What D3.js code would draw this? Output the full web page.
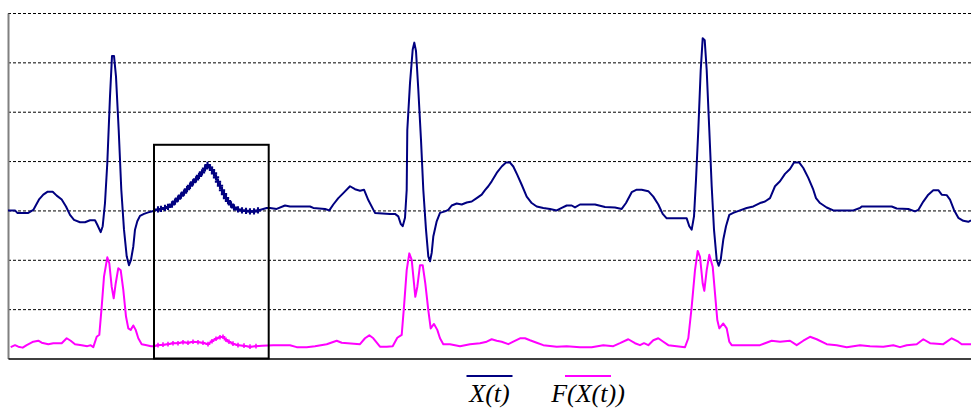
<!DOCTYPE html>
<html>
<head>
<meta charset="utf-8">
<script src="https://cdn.jsdelivr.net/npm/d3@7"></script>
<style>
  body { margin: 0; background: #fff; }
</style>
</head>
<body>
<svg id="chart"></svg>
<script>
// X(t) signal, sample index and amplitude
const xSamples = [0, 7, 9.3, 20.3, 25.3, 31.3, 35.3, 39.7, 44.7, 48.7, 53.7, 58, 62, 66, 72, 77, 82, 87, 89.3, 92.7, 94.7, 97, 99.3, 102, 104, 106, 108, 110.7, 113.3, 116, 118.7, 121, 123, 125.3, 127, 129.3, 132, 136, 140.3, 145.3,
  150, 153, 157, 160, 164, 167, 170, 173, 176, 179, 182, 185, 188, 191, 194, 197, 199.5, 202, 204, 206, 208, 210, 212, 214, 216, 218, 220, 223, 226, 230, 234, 238, 242, 246, 250,
  258.7, 262, 268.7, 277, 282, 302, 305.3, 317, 321.3, 325.3, 330.3, 335.3, 342, 347, 352, 356, 360.3, 367, 382, 387, 390.3, 392.7, 394.7, 397, 398.7, 399.3, 402, 404.7, 406.3, 408, 410.3, 413, 415.3, 418, 420.3, 422, 423.7, 425.3, 428.7, 432, 437, 440.3, 443.7, 448.7, 453.7, 458.7, 463.7, 468.7, 473.7, 477, 480.3, 483.7, 488.7, 493.7, 498, 502, 505.3, 509.3, 513.7, 518.7, 523.7, 528.7, 535.3, 542, 548.7, 553.7, 558.7, 563.7, 567, 572, 587, 597, 607, 613.7, 618, 623.7, 628.7, 633.7, 640.3, 645.3, 650.3, 654.7, 658.7, 678.7, 681.3, 683.7, 686, 688, 690.3, 692.7, 694.7, 696.7, 698.7, 701.3, 703.7, 706, 708.7, 710.7, 712.7, 715.3, 718, 721.3, 725.3, 732, 738.7, 745.3, 752, 757, 762, 767, 772, 777, 782, 786, 791.3, 795.3, 800.3, 805.3, 808, 812, 818.7, 825.3, 845.3, 852, 853.7, 883.7, 888.7, 900.3, 907, 910.3, 915.3, 920.3, 925.3, 930.3, 933.7, 938.7, 942, 946, 950.3, 955.3, 960.3, 963];
const xValues = [3.00, 3.00, 2.95, 2.95, 3.01, 3.23, 3.32, 3.38, 3.38, 3.30, 3.22, 3.08, 2.91, 2.81, 2.76, 2.76, 2.80, 2.80, 2.71, 2.56, 2.68, 3.15, 3.96, 5.31, 6.13, 6.13, 5.71, 4.63, 3.42, 2.61, 2.07, 1.89, 2.00, 2.27, 2.61, 2.78, 2.89, 2.93, 2.96, 2.99,
  3.02, 3.03, 3.05, 3.07, 3.12, 3.18, 3.24, 3.30, 3.36, 3.43, 3.50, 3.57, 3.63, 3.70, 3.77, 3.85, 3.92, 3.87, 3.82, 3.75, 3.67, 3.58, 3.50, 3.41, 3.33, 3.25, 3.19, 3.12, 3.06, 3.02, 3.00, 2.99, 2.98, 2.98, 3.00,
  3.05, 3.05, 3.03, 3.10, 3.08, 3.08, 3.05, 3.03, 3.00, 3.12, 3.25, 3.35, 3.49, 3.43, 3.40, 3.42, 3.21, 2.95, 2.93, 2.93, 2.88, 2.73, 2.68, 2.85, 3.42, 4.63, 5.58, 6.26, 6.40, 6.23, 5.45, 4.43, 3.42, 2.61, 2.07, 1.97, 2.14, 2.47, 2.78, 2.95, 2.98, 3.01, 3.10, 3.14, 3.12, 3.16, 3.18, 3.25, 3.32, 3.41, 3.49, 3.59, 3.76, 3.89, 3.97, 3.97, 3.89, 3.72, 3.52, 3.28, 3.15, 3.08, 3.05, 3.03, 3.00, 3.05, 3.10, 3.10, 3.06, 3.12, 3.12, 3.07, 3.06, 3.03, 3.15, 3.37, 3.42, 3.42, 3.39, 3.28, 3.12, 2.93, 2.84, 2.84, 2.68, 2.61, 2.88, 3.62, 4.63, 5.84, 6.49, 6.45, 5.84, 4.63, 3.49, 2.61, 2.00, 1.88, 2.00, 2.41, 2.68, 2.91, 2.95, 3.00, 3.05, 3.08, 3.15, 3.18, 3.25, 3.49, 3.59, 3.74, 3.84, 3.97, 3.97, 3.86, 3.66, 3.42, 3.25, 3.15, 3.06, 3.00, 3.00, 3.05, 3.08, 3.08, 3.04, 3.03, 2.98, 3.01, 3.18, 3.32, 3.41, 3.41, 3.32, 3.31, 3.22, 3.01, 2.85, 2.79, 2.77, 2.80];

// F(X(t)) signal
const fSamples = [2.7, 7, 10.3, 14.7, 18.7, 25.3, 30.3, 33.7, 40.3, 45.3, 53.7, 58.7, 62.7, 67, 73.7, 79.3, 82.7, 85.3, 88.7, 91.3, 93.7, 96, 99.3, 101.3, 103.7, 105.7, 107.7, 110.3, 112.7, 115.3, 118, 120.3, 122.7, 125.3, 127.7, 130.3, 133.7, 138.7, 143,
  146, 150, 155, 160, 165, 170, 175, 180, 185, 190, 195, 200, 204, 208, 212, 215, 218, 221, 225, 230, 236, 242, 248, 254,
  265.3, 282, 288.7, 298.7, 307, 318.7, 328.7, 333.7, 352, 357, 361.3, 365.3, 372, 378.7, 384.7, 389.3, 393.7, 396, 398.7, 401.3, 403.7, 406, 407.3, 409.3, 412, 414.7, 417.3, 420.3, 422.7, 426, 429.3, 432, 435.3, 442, 452, 462, 472, 478.7, 483.7, 488.7, 493.7, 500.3, 505.3, 512, 517, 522, 528.7, 535.3, 548.7, 558.7, 565.3, 572, 583.7, 595.3, 605.3, 612, 620.3, 627, 632, 636, 640.3, 645.3, 650.3, 655.3, 660.3, 677, 680.3, 683.7, 687, 689.7, 692, 694.7, 696.3, 698.7, 701.3, 704.7, 707, 709.3, 711.3, 715.3, 718.7, 721.3, 723.7, 738.7, 752, 763.7, 772, 782, 788.7, 795.3, 802, 808.7, 818.7, 828.7, 838.7, 852, 862, 875.3, 885.3, 892, 898.7, 908.7, 915.3, 922, 935.3, 943.7, 950.3, 953.7, 963];
const fValues = [0.23, 0.27, 0.24, 0.22, 0.27, 0.34, 0.36, 0.32, 0.29, 0.31, 0.31, 0.41, 0.36, 0.29, 0.27, 0.25, 0.27, 0.23, 0.44, 0.48, 1.05, 1.66, 2.05, 1.93, 1.45, 1.22, 1.52, 1.83, 1.79, 1.39, 0.85, 0.61, 0.58, 0.67, 0.58, 0.41, 0.29, 0.27, 0.25,
  0.25, 0.27, 0.28, 0.29, 0.31, 0.31, 0.33, 0.32, 0.34, 0.33, 0.32, 0.29, 0.35, 0.40, 0.43, 0.44, 0.38, 0.34, 0.30, 0.27, 0.26, 0.24, 0.25, 0.26,
  0.27, 0.27, 0.23, 0.23, 0.25, 0.29, 0.36, 0.32, 0.29, 0.41, 0.47, 0.41, 0.24, 0.24, 0.25, 0.42, 0.48, 1.05, 1.79, 2.13, 2.00, 1.52, 1.25, 1.45, 1.89, 1.89, 1.52, 0.98, 0.61, 0.70, 0.58, 0.41, 0.29, 0.29, 0.25, 0.29, 0.31, 0.34, 0.39, 0.36, 0.34, 0.29, 0.34, 0.41, 0.41, 0.37, 0.32, 0.27, 0.24, 0.25, 0.24, 0.23, 0.23, 0.27, 0.25, 0.31, 0.39, 0.31, 0.27, 0.31, 0.27, 0.37, 0.41, 0.34, 0.27, 0.23, 0.41, 1.05, 1.79, 2.18, 2.06, 1.52, 1.37, 1.79, 2.10, 1.86, 1.32, 0.78, 0.61, 0.71, 0.61, 0.34, 0.27, 0.27, 0.27, 0.36, 0.34, 0.36, 0.27, 0.36, 0.44, 0.39, 0.29, 0.27, 0.23, 0.27, 0.25, 0.24, 0.27, 0.23, 0.27, 0.29, 0.39, 0.31, 0.29, 0.41, 0.34, 0.29, 0.29];

// horizontal grid levels and the highlighted window
const gridLevels = [1, 2, 3, 4, 5, 6, 7];
const windowStart = 146, windowEnd = 260.7, windowTop = 4.33;
const legendNames = ["X(t)", "F(X(t))"];
const legendColors = ["#000080", "#ff00ff"];

const w = 971, h = 408;
const plotLeft = 8, plotRight = 971, plotTop = 13, plotBottom = 358.5;

const svg = d3.select("#chart")
  .attr("width", w)
  .attr("height", h)
  .style("display", "block");

const x = d3.scaleLinear().domain([0, 963]).range([plotLeft, plotRight]);
const y = d3.scaleLinear().domain([0, 7]).range([plotBottom, plotTop]);

// dashed grid
svg.append("g")
  .attr("transform", `translate(${plotLeft},0)`)
  .call(d3.axisLeft(y).tickValues(gridLevels).tickSize(-(plotRight - plotLeft)).tickFormat(""))
  .call(g => g.select(".domain").remove())
  .call(g => g.selectAll(".tick line")
    .attr("stroke", "#000")
    .attr("stroke-width", 1)
    .attr("stroke-dasharray", "3,2"));

// axes without ticks
svg.append("g")
  .attr("transform", `translate(${plotLeft},0)`)
  .call(d3.axisLeft(y).tickValues([]).tickSizeOuter(0))
  .call(g => g.select(".domain").attr("stroke", "#808080").attr("stroke-width", 2));

svg.append("g")
  .attr("transform", `translate(0,${plotBottom})`)
  .call(d3.axisBottom(x).tickValues([]).tickSizeOuter(0))
  .call(g => g.select(".domain").attr("stroke", "#000").attr("stroke-width", 1.5));

const xData = xSamples.map((t, i) => ({t, v: xValues[i]}));
const fData = fSamples.map((t, i) => ({t, v: fValues[i]}));

const line = d3.line().x(d => x(d.t)).y(d => y(d.v));

svg.append("path")
  .datum(fData)
  .attr("fill", "none")
  .attr("stroke", legendColors[1])
  .attr("stroke-width", 2)
  .attr("stroke-linejoin", "round")
  .attr("d", line);

svg.append("path")
  .datum(xData)
  .attr("fill", "none")
  .attr("stroke", legendColors[0])
  .attr("stroke-width", 2)
  .attr("stroke-linejoin", "round")
  .attr("d", line);

// sample markers inside the window
const inWindow = d => d.t >= windowStart + 3 && d.t <= windowEnd - 8;

svg.append("g").selectAll("path")
  .data(xData.filter(inWindow))
  .join("path")
  .attr("transform", d => `translate(${x(d.t)},${y(d.v)})`)
  .attr("d", d3.symbol().type(d3.symbolCross).size(22))
  .attr("fill", legendColors[0]);

svg.append("g").selectAll("path")
  .data(fData.filter(inWindow))
  .join("path")
  .attr("transform", d => `translate(${x(d.t)},${y(d.v)})`)
  .attr("d", d3.symbol().type(d3.symbolCross).size(12))
  .attr("fill", legendColors[1]);

// window rectangle
svg.append("rect")
  .attr("x", x(windowStart))
  .attr("y", y(windowTop))
  .attr("width", x(windowEnd) - x(windowStart))
  .attr("height", y(0) - y(windowTop))
  .attr("fill", "none")
  .attr("stroke", "#000")
  .attr("stroke-width", 2);

// legend
const legendCenters = [489.5, 588];
const legend = svg.append("g").selectAll("g")
  .data(legendNames)
  .join("g")
  .attr("transform", (d, i) => `translate(${legendCenters[i]},0)`);

legend.append("line")
  .attr("x1", -23).attr("x2", 23)
  .attr("y1", 376).attr("y2", 376)
  .attr("stroke", (d, i) => legendColors[i])
  .attr("stroke-width", 2);

legend.append("text")
  .attr("y", 401.5)
  .attr("text-anchor", "middle")
  .style("font-family", "'Liberation Serif', 'Times New Roman', serif")
  .style("font-style", "italic")
  .style("font-size", "26px")
  .text(d => d);
</script>
</body>
</html>
